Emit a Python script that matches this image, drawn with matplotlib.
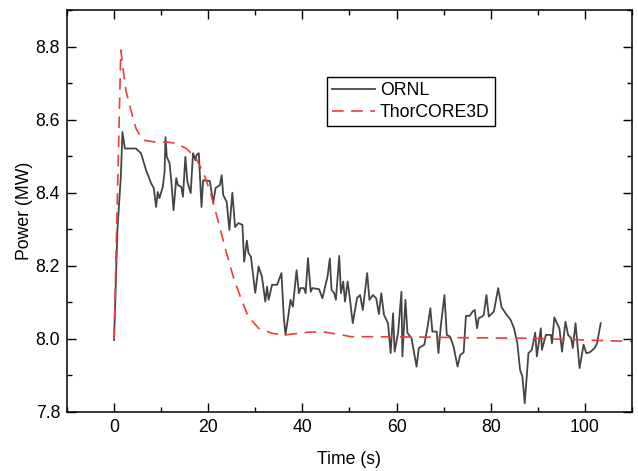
import numpy as np
import matplotlib
matplotlib.use('Agg')
import matplotlib.pyplot as plt
from matplotlib.ticker import MultipleLocator

ornl_t = [0.0, 0.71, 1.43, 1.78, 2.29, 4.65, 5.72, 6.79, 7.86, 8.42, 8.93, 9.27, 9.64,
          10.34, 10.71, 10.92, 11.20, 11.78, 12.14, 12.63, 13.21, 13.55, 14.28, 14.63,
          15.14, 15.57, 16.27, 16.77, 17.28, 17.49, 17.99, 18.57, 18.91, 20.34, 21.05,
          21.56, 22.48, 22.85, 23.19, 23.92, 24.48, 25.12, 25.70, 26.40, 27.26, 27.62,
          28.20, 28.54, 29.06, 29.98, 30.69, 31.41, 32.12, 32.48, 32.83, 33.55, 34.63,
          35.55, 36.04, 36.40, 36.98, 37.47, 37.97, 38.76, 39.25, 39.61, 40.32, 40.69,
          41.18, 41.76, 42.12, 43.53, 44.26, 44.82, 45.33, 45.82, 46.19, 46.75, 47.11,
          47.82, 48.18, 48.67, 49.04, 49.61, 50.11, 50.69, 51.61, 52.25, 52.83, 53.75,
          54.24, 54.97, 55.67, 56.25, 56.75, 57.32, 58.18, 58.74, 59.25, 59.59, 60.32,
          61.03, 61.24, 61.88, 62.31, 63.17, 64.24, 64.73, 65.89, 66.60, 67.17, 67.60,
          68.52, 68.89, 69.38, 70.17, 70.66, 71.37, 72.10, 72.96, 73.51, 74.24, 74.73,
          75.53, 76.17, 76.60, 77.09, 77.45, 78.16, 78.52, 79.08, 79.59, 80.66, 81.58,
          82.29, 83.15, 84.22, 84.95, 85.65, 86.23, 86.72, 87.22, 88.01, 88.72, 89.44,
          89.79, 90.64, 90.86, 91.71, 92.78, 93.00, 93.51, 94.22, 94.58, 95.14, 95.87,
          96.42, 97.07, 97.43, 98.01, 98.86, 99.72, 100.28, 101.00, 102.08, 102.57, 103.36]
ornl_p = [7.997, 8.298, 8.443, 8.566, 8.521, 8.521, 8.508, 8.462, 8.426, 8.413, 8.361,
          8.402, 8.385, 8.416, 8.454, 8.552, 8.498, 8.481, 8.434, 8.352, 8.440, 8.421,
          8.416, 8.389, 8.498, 8.430, 8.399, 8.508, 8.489, 8.503, 8.508, 8.361, 8.434,
          8.432, 8.372, 8.413, 8.421, 8.448, 8.393, 8.375, 8.298, 8.400, 8.306, 8.317,
          8.312, 8.211, 8.269, 8.235, 8.225, 8.126, 8.198, 8.170, 8.102, 8.143, 8.107,
          8.148, 8.148, 8.180, 8.061, 8.011, 8.061, 8.107, 8.088, 8.188, 8.125, 8.139,
          8.139, 8.125, 8.221, 8.129, 8.139, 8.136, 8.111, 8.143, 8.170, 8.220, 8.134,
          8.125, 8.107, 8.227, 8.125, 8.157, 8.102, 8.157, 8.107, 8.043, 8.112, 8.120,
          8.079, 8.180, 8.107, 8.120, 8.111, 8.068, 8.125, 8.066, 8.043, 7.961, 8.070,
          7.965, 8.016, 8.129, 7.952, 8.107, 8.016, 8.002, 7.924, 7.975, 7.984, 8.034,
          8.084, 8.020, 8.020, 7.961, 8.034, 8.120, 8.011, 8.006, 7.979, 7.924, 7.956,
          7.963, 8.063, 8.063, 8.075, 8.079, 8.029, 8.057, 8.061, 8.066, 8.120, 8.061,
          8.075, 8.139, 8.087, 8.070, 8.052, 8.029, 7.988, 7.915, 7.897, 7.824, 7.961,
          7.970, 8.017, 7.952, 8.029, 7.970, 8.011, 8.011, 7.988, 8.059, 8.038, 8.029,
          7.965, 8.047, 8.011, 8.002, 7.975, 8.043, 7.920, 7.984, 7.961, 7.963, 7.975,
          7.988, 8.043]

# ThorCORE3D simulation
thor_t = [0.0, 1.43, 2.5, 3.57, 4.65, 6.07, 8.57, 11.07, 13.2, 15.35, 17.3, 18.9, 20.3,
          21.4, 22.5, 23.9, 25.3, 26.8, 28.5, 30.7, 33.6, 36.4, 41.0, 43.9, 47.5, 50.3,
          55.0, 65.0, 75.0, 88.0, 100.0, 110.0]
thor_p = [8.000, 8.790, 8.680, 8.626, 8.576, 8.544, 8.539, 8.539, 8.535, 8.521, 8.496,
          8.457, 8.407, 8.357, 8.302, 8.234, 8.170, 8.116, 8.061, 8.029, 8.015, 8.011,
          8.018, 8.020, 8.013, 8.006, 8.006, 8.005, 8.003, 8.002, 7.997, 7.993]

plt.rcParams['font.family'] = ['Liberation Sans', 'DejaVu Sans']
FS = 12.7

fig = plt.figure(figsize=(6.38, 4.71), dpi=100)
ax = fig.add_axes([0.105, 0.1253, 0.8856, 0.8535])

ax.plot(ornl_t, ornl_p, color='#454545', lw=1.3, label='ORNL')
ax.plot(thor_t, thor_p, color='#f03c3c', lw=1.2, ls=(0, (7, 4.5)), label='ThorCORE3D')

ax.set_xlim(-10, 110)
ax.set_ylim(7.8, 8.9)
ax.xaxis.set_major_locator(MultipleLocator(20))
ax.xaxis.set_minor_locator(MultipleLocator(10))
ax.yaxis.set_major_locator(MultipleLocator(0.2))
ax.yaxis.set_minor_locator(MultipleLocator(0.1))
ax.tick_params(which='both', direction='in', top=True, right=True, labelsize=FS, pad=5)
ax.tick_params(which='major', length=6.5, width=1)
ax.tick_params(which='minor', length=3.5, width=1)
for s in ax.spines.values():
    s.set_linewidth(1.1)

ax.set_xlabel('Time (s)', fontsize=FS, labelpad=11)
ax.set_ylabel('Power (MW)', fontsize=FS, labelpad=2)

leg = ax.legend(loc='upper left', bbox_to_anchor=(0.460, 0.833), fontsize=FS,
                frameon=True, fancybox=False, framealpha=1, edgecolor='black',
                handlelength=2.4, handletextpad=0.3, borderpad=0.3,
                labelspacing=0.25, borderaxespad=0)
leg.get_frame().set_linewidth(1.0)

fig.savefig('out.png', dpi=100)
